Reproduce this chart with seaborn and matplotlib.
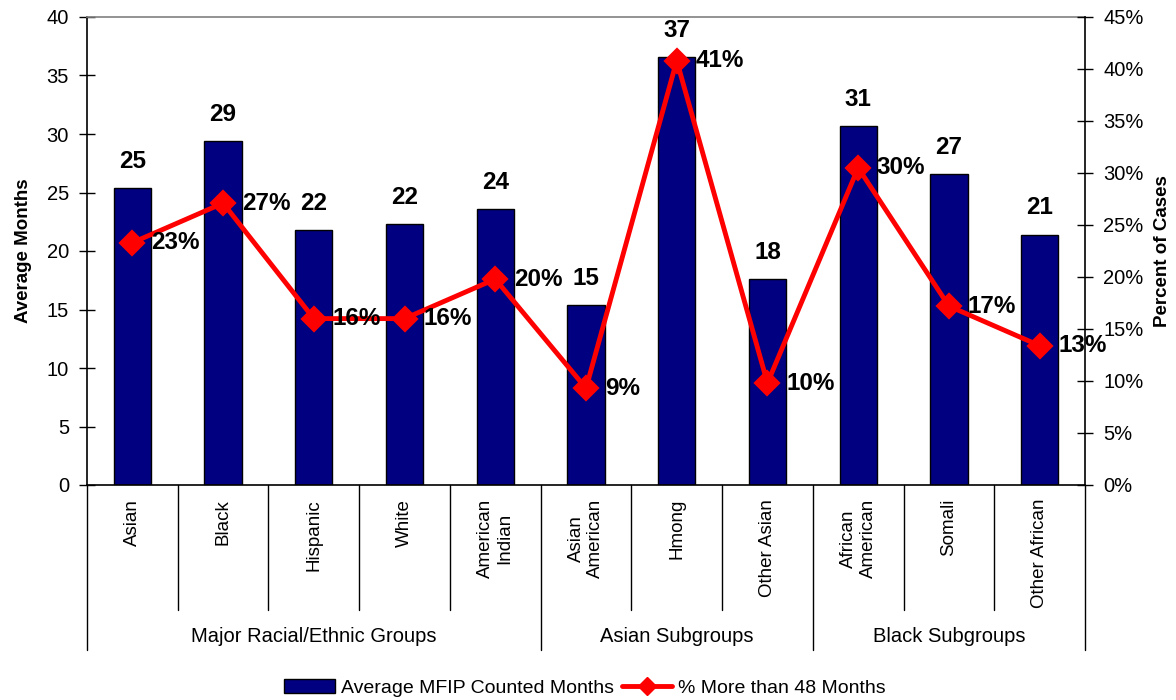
import matplotlib
matplotlib.use("Agg")
import matplotlib.pyplot as plt
import matplotlib.transforms as mtransforms
from matplotlib.patches import Patch
from matplotlib.lines import Line2D
from matplotlib.ticker import FuncFormatter
import seaborn as sns
import pandas as pd

categories = ["Asian", "Black", "Hispanic", "White", "American\nIndian",
              "Asian\nAmerican", "Hmong", "Other Asian", "African\nAmerican",
              "Somali", "Other African"]
avg_months = [25.4, 29.4, 21.8, 22.3, 23.6, 15.4, 36.6, 17.6, 30.7, 26.6, 21.4]
pct_over_48 = [0.233, 0.271, 0.160, 0.160, 0.198, 0.093, 0.408, 0.098, 0.305, 0.172, 0.134]
bar_labels = ["25", "29", "22", "22", "24", "15", "37", "18", "31", "27", "21"]
pct_labels = ["23%", "27%", "16%", "16%", "20%", "9%", "41%", "10%", "30%", "17%", "13%"]
groups = ["Major Racial/Ethnic Groups", "Asian Subgroups", "Black Subgroups"]
group_sizes = [5, 3, 3]
bar_series = "Average MFIP Counted Months"
line_series = "% More than 48 Months"

sns.set_style("white")
plt.rcParams["font.family"] = ["Liberation Sans", "DejaVu Sans"]
plt.rcParams["text.color"] = "black"
plt.rcParams["axes.labelcolor"] = "black"
plt.rcParams["xtick.color"] = "black"
plt.rcParams["ytick.color"] = "black"

df = pd.DataFrame({"cat": categories, "months": avg_months, "pct": pct_over_48})

W, H = 1176, 700
fig = plt.figure(figsize=(W / 100, H / 100), dpi=100)
L, R, T, B = 87, 1085, 17, 485
ax = fig.add_axes([L / W, (H - B) / H, (R - L) / W, (B - T) / H])

sns.barplot(data=df, x="cat", y="months", ax=ax, color="#000080",
            edgecolor="black", linewidth=1, width=0.41, saturation=1)
ax.set_ylim(0, 40)
ax.set_yticks(range(0, 41, 5))
ax.set_xlim(-0.5, len(categories) - 0.5)
ax.set_xlabel("")
ax.set_ylabel("Average Months", fontsize=13.5, fontweight="bold")
ax.yaxis.set_label_coords((32 - L) / (R - L), 0.5)
ax.tick_params(axis="y", direction="inout", length=12, width=1, pad=7,
               labelsize=14.5, color="black")
ax.tick_params(axis="x", length=0, pad=10, labelsize=13.5)
ax.set_xticks(range(len(categories)))
ax.set_xticklabels(categories, rotation=90, ha="center", va="top",
                   multialignment="center")
for s in ["left", "bottom"]:
    ax.spines[s].set_color("black")
    ax.spines[s].set_linewidth(1.2)
ax.spines["top"].set_color("#808080")
ax.spines["top"].set_linewidth(1.2)
ax.spines["right"].set_visible(False)

for i, (v, t) in enumerate(zip(avg_months, bar_labels)):
    ax.annotate(t, (i, v), xytext=(0, 11), textcoords="offset points",
                ha="center", va="bottom", fontsize=17.5, fontweight="bold")

ax2 = ax.twinx()
sns.pointplot(data=df, x="cat", y="pct", ax=ax2, color="#FF0000",
              markers="D", linestyles="-", errorbar=None,
              markersize=11, linewidth=3.5)
ax2.set_ylim(0, 0.45)
ax2.set_yticks([i * 0.05 for i in range(10)])
ax2.yaxis.set_major_formatter(FuncFormatter(lambda v, p: f"{v * 100:.0f}%"))
ax2.set_xlim(-0.5, len(categories) - 0.5)
ax2.set_ylabel("Percent of Cases", fontsize=13.5, fontweight="bold")
ax2.yaxis.set_label_coords((1154 - L) / (R - L), 0.5)
ax2.tick_params(axis="y", direction="inout", length=12, width=1, pad=7,
                labelsize=14.5, color="black")
for s in ["left", "top", "bottom"]:
    ax2.spines[s].set_visible(False)
ax2.spines["right"].set_color("black")
ax2.spines["right"].set_linewidth(1.2)

for i, (v, t) in enumerate(zip(pct_over_48, pct_labels)):
    ax2.annotate(t, (i, v), xytext=(13.5, 0), textcoords="offset points",
                 ha="left", va="center", fontsize=17.5, fontweight="bold")

# category separators below axis
trans = mtransforms.blended_transform_factory(ax.transData, ax.transAxes)
short_end = (B - 610) / (B - T)
long_end = (B - 650) / (B - T)
group_bounds = [-0.5]
for n in group_sizes:
    group_bounds.append(group_bounds[-1] + n)
for k in range(len(categories) + 1):
    b = k - 0.5
    end = long_end if b in group_bounds else short_end
    ax.plot([b, b], [0, end], color="black", lw=1, transform=trans, clip_on=False)

label_y = (B - 636) / (B - T)
for g, lo, hi in zip(groups, group_bounds[:-1], group_bounds[1:]):
    ax.text((lo + hi) / 2, label_y, g, transform=trans, ha="center", va="center",
            fontsize=14.5)

handles = [Patch(facecolor="#000080", edgecolor="black", linewidth=1),
           Line2D([0], [0], color="#FF0000", lw=3.5, marker="D", markersize=9)]
fig.legend(handles, [bar_series, line_series], loc="center",
           bbox_to_anchor=(585 / W, 1 - 688 / H), ncol=2, frameon=False,
           fontsize=14, handlelength=2.6, handletextpad=0.3, columnspacing=0.4)

fig.savefig("out.png", dpi=100)
